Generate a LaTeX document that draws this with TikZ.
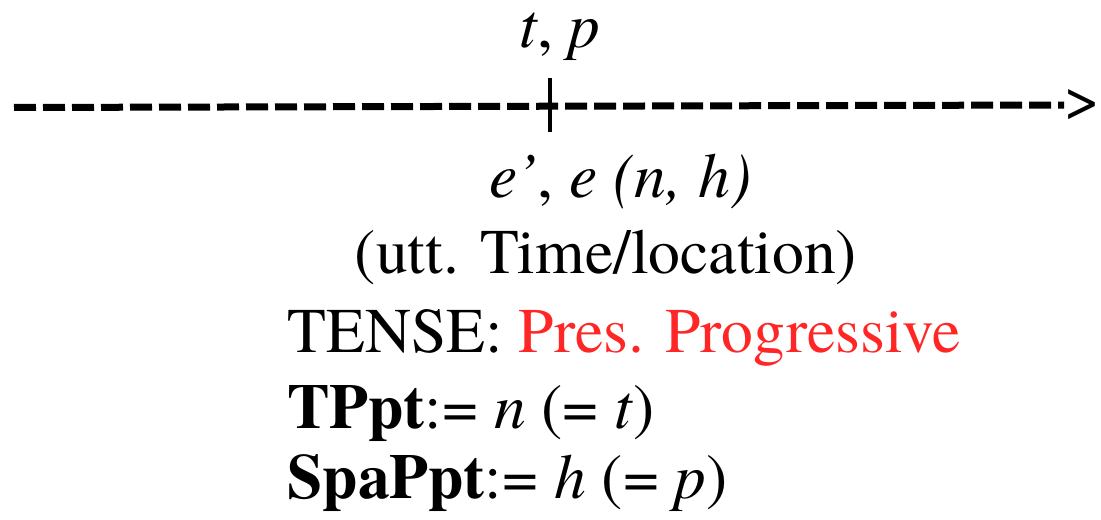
\documentclass[tikz,border=0pt]{standalone}
\usepackage{fontspec}
\setmainfont{texgyretermes}[Extension=.otf,
    UprightFont=*-regular, BoldFont=*-bold,
    ItalicFont=*-italic, BoldItalicFont=*-bolditalic]
\usepackage{xcolor}
\usepackage{tikz}
\usetikzlibrary{positioning}
\definecolor{tenseRed}{RGB}{255,38,38}

\begin{document}
\begin{tikzpicture}[x=0.5pt, y=-0.5pt,
    txt/.style={inner sep=0pt, font=\fontsize{31.8}{38}\selectfont},
    timeline/.style={line width=3.5pt, dash pattern=on 11pt off 3.5pt}]
    \useasboundingbox (0,0) rectangle (1101,519);

    % Time line with the event marker
    \coordinate (start) at (14,107.5);
    \node[txt, anchor=west] (head) at (1064,105) {>};
    \draw[timeline] (start) -- (head.west);
    \coordinate (markTop) at (550,78);
    \coordinate (markBot) at (550,132);
    \draw[line width=2pt] (markTop) -- (markBot);

    % Labels above and below the marker
    \node[txt, anchor=base] (tp) at (560,48) {\textit{t}, \textit{p}};
    \node[txt, anchor=base west] (ee) at (489,197) {\textit{e’}, \textit{e (n, h)}};
    \node[txt, anchor=base] (utt) at (606,273) {(utt. Time/location)};

    % Tense and perspective points
    \node[txt, anchor=base west] (tense) at (287,352)
        {TENSE: \textcolor{tenseRed}{Pres. Progressive}};
    \node[txt, anchor=base west] (tppt) at (287,428)
        {\textbf{TPpt}:= \textit{n} (= \textit{t})};
    \node[txt, anchor=base west] (sppt) at (287,498)
        {\textbf{SpaPpt}:= \textit{h} (= \textit{p})};
\end{tikzpicture}
\end{document}
